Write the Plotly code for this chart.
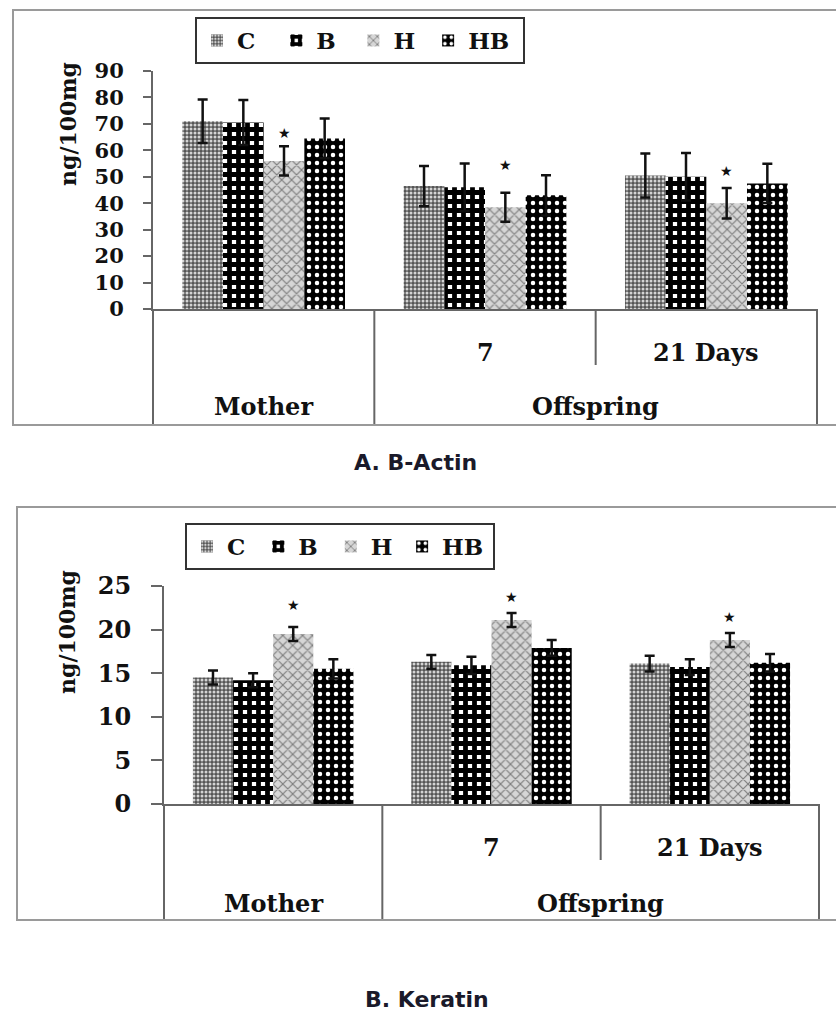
import plotly.graph_objects as go

W, H = 836, 1014

# ---------------- data ----------------
series = ["C", "B", "H", "HB"]
cat_keys = ["Mother", "Offspring 7", "Offspring 21 Days"]
cat_groups = ["Mother", "Offspring", "Offspring"]
sub_labels = ["", "7", "21 Days"]

actin_C = [71, 46.5, 50.5]
actin_B = [70.5, 46, 50]
actin_H = [56, 38.5, 40]
actin_HB = [64.5, 43, 47.5]
actin_err_C = [8.2, 7.6, 8.3]
actin_err_B = [8.5, 9, 9]
actin_err_H = [5.5, 5.5, 5.8]
actin_err_HB = [7.5, 7.6, 7.4]
actin_star = [66.5, 54.5, 52]

keratin_C = [14.5, 16.3, 16.1]
keratin_B = [14.2, 15.9, 15.7]
keratin_H = [19.5, 21.1, 18.8]
keratin_HB = [15.5, 17.9, 16.2]
keratin_err_C = [0.8, 0.8, 0.9]
keratin_err_B = [0.8, 1.0, 0.9]
keratin_err_H = [0.8, 0.8, 0.8]
keratin_err_HB = [1.1, 0.9, 1.0]
keratin_star = [22.8, 23.7, 21.5]

titles = ["A. B-Actin", "B. Keratin"]
ytitle = "ng/100mg"

# ---------------- styles ----------------
patterns = {
    "C": dict(shape=".", bgcolor="#555555", fgcolor="#d4d4d4", size=4, solidity=0.45),
    "B": dict(shape="+", bgcolor="#ffffff", fgcolor="#000000", size=9, solidity=0.78),
    "H": dict(shape="x", bgcolor="#d6d6d6", fgcolor="#7c7c7c", size=7, solidity=0.3),
    "HB": dict(shape=".", bgcolor="#000000", fgcolor="#ffffff", size=8, solidity=0.25),
}
NB, TH = "\u00a0", "\u2009"
# trailing padding so legend entries sit at equal spacing like the original boxes
legend_pads = [
    {"C": NB + NB, "B": NB + TH, "H": NB, "HB": NB},
    {"C": NB, "B": NB, "H": TH, "HB": TH},
]
BARGAP = 0.265
SERIF = "DejaVu Serif"
SANS = "DejaVu Sans"
INK = "#111111"
LINE = "#666666"


def px_x(p):
    return p / W


def px_y(p):
    return 1 - p / H


panels = [
    dict(vals=[actin_C, actin_B, actin_H, actin_HB],
         errs=[actin_err_C, actin_err_B, actin_err_H, actin_err_HB],
         stars=actin_star, xa="x", ya="y", legend="legend",
         xdom=(153, 817), ydom=(309, 71), yrange=[0, 90], dtick=10,
         tickfs=21, ticklen=8, standoff=15,
         table_bottom=425, inner_end=365, inner_y=352, outer_y=407,
         frame=(13, 10, 425), legend_pos=(195, 17), legend_fs=23,
         ytitle_pos=(68, 124), title_pos=(415, 462)),
    dict(vals=[keratin_C, keratin_B, keratin_H, keratin_HB],
         errs=[keratin_err_C, keratin_err_B, keratin_err_H, keratin_err_HB],
         stars=keratin_star, xa="x2", ya="y2", legend="legend2",
         xdom=(164, 819), ydom=(804, 586), yrange=[0, 25], dtick=5,
         tickfs=24, ticklen=11, standoff=15,
         table_bottom=920, inner_end=860, inner_y=847, outer_y=903,
         frame=(17, 507, 920), legend_pos=(185, 523), legend_fs=23,
         ytitle_pos=(67, 632), title_pos=(427, 999)),
]

fig = go.Figure()
shapes = []
annotations = []

for pi, P in enumerate(panels):
    for si, name in enumerate(series):
        pat = patterns[name]
        fig.add_trace(go.Bar(
            x=cat_keys, y=P["vals"][si], name=name + legend_pads[pi][name],
            xaxis=P["xa"], yaxis=P["ya"], legend=P["legend"],
            marker=dict(color=pat["bgcolor"], line=dict(width=0),
                        pattern=dict(shape=pat["shape"], bgcolor=pat["bgcolor"],
                                     fgcolor=pat["fgcolor"], size=pat["size"],
                                     solidity=pat["solidity"], fillmode="replace")),
            error_y=dict(type="data", array=P["errs"][si], visible=True,
                         color="#111111", thickness=2.5, width=5),
        ))

    xn = "xaxis" if P["xa"] == "x" else "xaxis2"
    yn = "yaxis" if P["ya"] == "y" else "yaxis2"
    fig.update_layout(**{
        xn: dict(domain=[px_x(P["xdom"][0]), px_x(P["xdom"][1])],
                 anchor=P["ya"], showline=True, linecolor=LINE, linewidth=2,
                 showticklabels=False, ticks="", showgrid=False, zeroline=False,
                 automargin=False,
                 categoryorder="array", categoryarray=cat_keys),
        yn: dict(domain=[px_y(P["ydom"][0]), px_y(P["ydom"][1])],
                 anchor=P["xa"], range=P["yrange"], dtick=P["dtick"],
                 showline=True, linecolor=LINE, linewidth=2,
                 ticks="outside", ticklen=P["ticklen"], tickwidth=1.5, tickcolor=LINE,
                 ticklabelstandoff=P["standoff"], automargin=False,
                 tickfont=dict(family=SERIF, size=P["tickfs"], color=INK, weight="bold"),
                 showgrid=False, zeroline=False),
    })

    # legend box
    lx, ly = P["legend_pos"]
    fig.update_layout(**{P["legend"]: dict(
        x=px_x(lx), y=px_y(ly), xanchor="left", yanchor="top",
        orientation="h", bgcolor="white", bordercolor="#333333", borderwidth=2,
        font=dict(family=SERIF, size=P["legend_fs"], color=INK, weight="bold"),
        itemwidth=30, tracegroupgap=0,
    )})

    # category table lines
    xr = P["xa"] + " domain"
    n = len(cat_keys)
    y_axis = px_y(P["ydom"][0])
    y_bot = px_y(P["table_bottom"])
    y_inner = px_y(P["inner_end"])
    for k in range(n + 1):
        full = (k == 0 or k == n or cat_groups[k - 1] != cat_groups[k])
        shapes.append(dict(type="line", xref=xr, yref="paper",
                           x0=k / n, x1=k / n, y0=y_axis,
                           y1=y_bot if full else y_inner,
                           line=dict(color=LINE, width=2)))
    shapes.append(dict(type="line", xref=xr, yref="paper", x0=0, x1=1,
                       y0=y_bot, y1=y_bot, line=dict(color=LINE, width=2)))

    # inner (sub) labels
    for k, lab in enumerate(sub_labels):
        if lab:
            annotations.append(dict(text=lab, xref=xr, yref="paper",
                                    x=(k + 0.5) / n, y=px_y(P["inner_y"]),
                                    xanchor="center", yanchor="middle", showarrow=False,
                                    font=dict(family=SERIF, size=24, color=INK, weight="bold")))
    # outer (group) labels
    seen = []
    for g in cat_groups:
        if g not in seen:
            seen.append(g)
    for g in seen:
        idx = [k for k, c in enumerate(cat_groups) if c == g]
        xc = (idx[0] + idx[-1] + 1) / 2 / n
        annotations.append(dict(text=g, xref=xr, yref="paper", x=xc, y=px_y(P["outer_y"]),
                                xanchor="center", yanchor="middle", showarrow=False,
                                font=dict(family=SERIF, size=24, color=INK, weight="bold")))

    # significance stars above H bars
    hi = series.index("H")
    bw = (1 - BARGAP) / len(series)
    off = (hi - (len(series) - 1) / 2) * bw
    for k, sy in enumerate(P["stars"]):
        annotations.append(dict(text="★", xref=P["xa"], yref=P["ya"], x=k + off, y=sy,
                                xanchor="center", yanchor="middle", showarrow=False,
                                font=dict(family=SANS, size=14, color=INK)))

    # y-axis title
    tx, ty = P["ytitle_pos"]
    annotations.append(dict(text=ytitle, xref="paper", yref="paper", x=px_x(tx), y=px_y(ty),
                            xanchor="center", yanchor="middle", textangle=-90, showarrow=False,
                            font=dict(family=SERIF, size=22, color=INK, weight="bold")))

    # panel caption
    cx, cy = P["title_pos"]
    annotations.append(dict(text=titles[pi], xref="paper", yref="paper", x=px_x(cx), y=px_y(cy),
                            xanchor="center", yanchor="middle", showarrow=False,
                            font=dict(family=SANS, size=22, color="#1a1a2a", weight="bold")))

    # outer chart-area frame
    fl, ft, fb = P["frame"]
    shapes.append(dict(type="rect", xref="paper", yref="paper",
                       x0=px_x(fl), x1=1.05, y0=px_y(fb), y1=px_y(ft),
                       line=dict(color="#9a9a9a", width=2), fillcolor="rgba(0,0,0,0)"))

fig.update_layout(
    width=W, height=H, margin=dict(l=0, r=0, t=0, b=0, pad=0, autoexpand=False),
    paper_bgcolor="white", plot_bgcolor="white",
    barmode="group", bargap=BARGAP, bargroupgap=0,
    showlegend=True, shapes=shapes, annotations=annotations,
)

fig.write_html("out.html", config={"displayModeBar": False},
               post_script="document.body.style.margin='0';")
